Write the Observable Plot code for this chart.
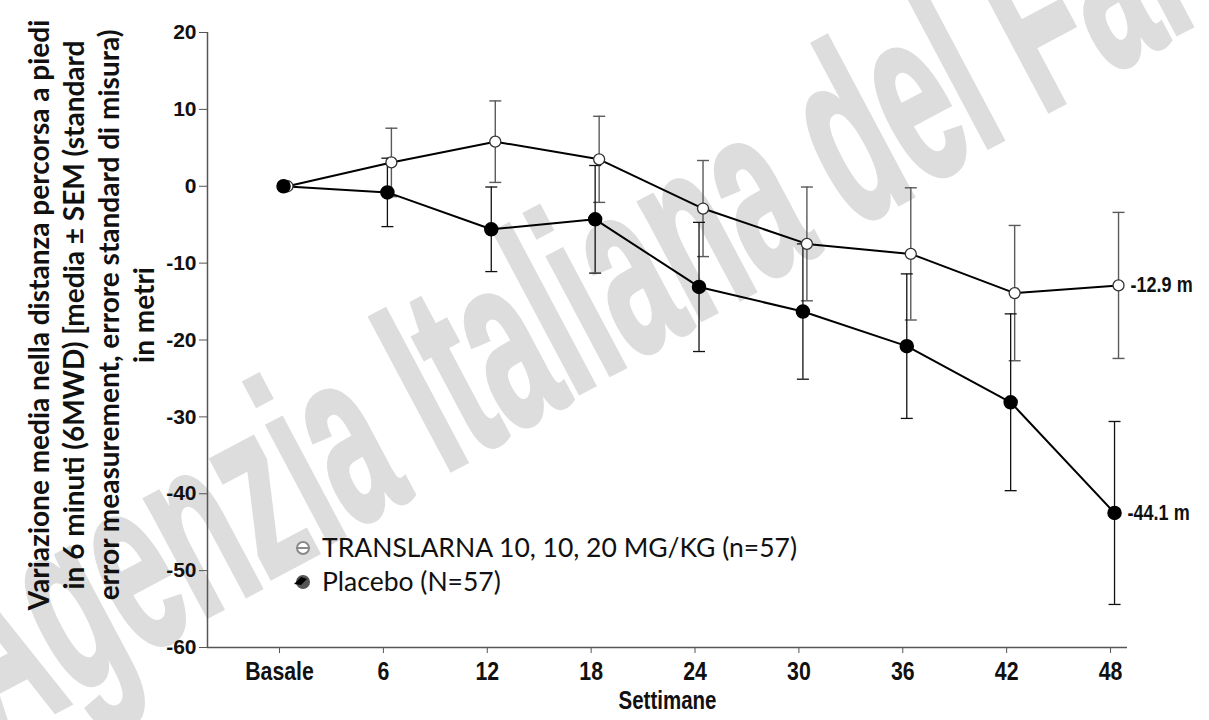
<!DOCTYPE html>
<html><head><meta charset="utf-8">
<script src="https://cdn.jsdelivr.net/npm/d3@7"></script>
<script src="https://cdn.jsdelivr.net/npm/@observablehq/plot@0.6"></script>
<style>
html,body{margin:0;padding:0;background:#fff;}
#wrap{position:relative;width:1209px;height:720px;overflow:hidden;}
#wrap > svg{position:absolute;left:0;top:0;}
#legend{position:absolute;left:0;top:0;pointer-events:none;}
</style></head><body><div id="wrap"></div>
<script>
// ---- data ----
const weeks = [0, 6, 12, 18, 24, 30, 36, 42, 48];
const weekLabels = ["Basale", "6", "12", "18", "24", "30", "36", "42", "48"];
const translarnaMean = [0, 3.1, 5.8, 3.5, -2.9, -7.5, -8.8, -13.9, -12.9];
const translarnaSem  = [0, 4.45, 5.3, 5.6, 6.25, 7.4, 8.6, 8.8, 9.5];
const placeboMean    = [0, -0.8, -5.6, -4.3, -13.1, -16.3, -20.8, -28.1, -42.5];
const placeboSem     = [0, 4.45, 5.5, 7.0, 8.4, 8.8, 9.4, 11.5, 11.9];
const seriesNames = ["TRANSLARNA 10, 10, 20 MG/KG (n=57)", "Placebo (N=57)"];
const endLabels = ["-12.9 m", "-44.1 m"];
const yTicks = [20, 10, 0, -10, -20, -30, -40, -50, -60];
const yTitleLines = [
  "Variazione media nella distanza percorsa a piedi",
  "in 6 minuti (6MWD) [media \u00B1 SEM (standard",
  "error measurement, errore standard di misura)",
  "in metri"
];
const xTitle = "Settimane";
const watermarkText = "Agenzia Italiana del Farmaco";

// ---- derived tables ----
const makeRows = (name, means, sems) => weeks.map((w, i) => ({
  series: name, week: w, mean: means[i], sem: sems[i],
  lo: means[i] - sems[i], hi: means[i] + sems[i]
}));
const tr = makeRows(seriesNames[0], translarnaMean, translarnaSem);
const pl = makeRows(seriesNames[1], placeboMean, placeboSem);
const trBars = tr.filter(d => d.sem > 0);
const plBars = pl.filter(d => d.sem > 0);
const trEnd = [{week: weeks[weeks.length - 1], mean: translarnaMean[translarnaMean.length - 1], label: endLabels[0]}];
const plEnd = [{week: weeks[weeks.length - 1], mean: placeboMean[placeboMean.length - 1], label: endLabels[1]}];

const W = 1209, H = 720;
const xDomain = [-4.16, 48.98];
const yDomain = [-60, 20];
const capSymbol = {draw(ctx, size) { const w = Math.sqrt(size / Math.PI); ctx.moveTo(-w, 0); ctx.lineTo(w, 0); }};

const armFont = "Arial, 'Liberation Sans', sans-serif";

// watermark (drawn first, behind everything): letters placed one by one
function watermark() {
  const g = d3.create("svg:g");
  const fontSize = 200, sx = 0.64, sy = 1.25, letterRot = -28, pathAngle = 31 * Math.PI / 180;
  const ctx = document.createElement("canvas").getContext("2d");
  ctx.font = `bold ${fontSize}px 'Liberation Sans', Arial, sans-serif`;
  let s = 0;
  const ox = -8, oy = 745;
  for (const ch of watermarkText) {
    const w = ctx.measureText(ch).width * sx;
    const px = ox + s * Math.cos(pathAngle), py = oy - s * Math.sin(pathAngle);
    if (ch !== " ") {
      g.append("text")
        .attr("transform", `translate(${px.toFixed(1)},${py.toFixed(1)}) rotate(${letterRot}) scale(${sx},${sy})`)
        .attr("text-anchor", "start")
        .attr("font-family", "'Liberation Sans', Arial, sans-serif")
        .attr("font-weight", "bold")
        .attr("font-size", fontSize)
        .attr("fill", "#dddddd")
        .attr("stroke", "#dddddd")
        .attr("stroke-width", 4)
        .text(ch);
    }
    s += w;
  }
  return g.node();
}

const trGrey = "#5a5a5a";

const chart = Plot.plot({
  width: W, height: H,
  marginLeft: 207, marginRight: W - 1127, marginTop: 32, marginBottom: H - 647,
  style: {background: "transparent", fontFamily: armFont, color: "#000"},
  x: {domain: xDomain, axis: null},
  y: {domain: yDomain, axis: null},
  marks: [
    watermark,
    // axes lines
    Plot.ruleX([xDomain[0]], {stroke: "#555", strokeWidth: 1.5}),
    Plot.ruleY([yDomain[0]], {stroke: "#555", strokeWidth: 1.5}),
    Plot.axisY({ticks: yTicks, tickSize: 8, tickPadding: 3, stroke: "#555", label: null,
      tickFormat: d => String(d),
      fontSize: 21, fontWeight: "bold", fontFamily: armFont, fill: "#111"}),
    Plot.axisX({ticks: weeks, tickSize: 6, tickPadding: 8, stroke: "#555", label: null,
      tickFormat: d => weekLabels[weeks.indexOf(d)],
      fontSize: 26, fontWeight: "bold", fontFamily: armFont, fill: "#111"}),
    // error bars
    Plot.ruleX(trBars, {x: "week", y1: "lo", y2: "hi", stroke: trGrey, strokeWidth: 1.4, dx: 8}),
    Plot.dot(trBars, {x: "week", y: "lo", symbol: capSymbol, r: 6, stroke: trGrey, strokeWidth: 1.4, dx: 8}),
    Plot.dot(trBars, {x: "week", y: "hi", symbol: capSymbol, r: 6, stroke: trGrey, strokeWidth: 1.4, dx: 8}),
    Plot.ruleX(plBars, {x: "week", y1: "lo", y2: "hi", stroke: "#111", strokeWidth: 1.3, dx: 4}),
    Plot.dot(plBars, {x: "week", y: "lo", symbol: capSymbol, r: 6, stroke: "#111", strokeWidth: 1.3, dx: 4}),
    Plot.dot(plBars, {x: "week", y: "hi", symbol: capSymbol, r: 6, stroke: "#111", strokeWidth: 1.3, dx: 4}),
    // lines
    Plot.line(tr, {x: "week", y: "mean", stroke: "#000", strokeWidth: 2, dx: 8}),
    Plot.line(pl, {x: "week", y: "mean", stroke: "#000", strokeWidth: 2, dx: 4}),
    // markers
    Plot.dot(tr, {x: "week", y: "mean", r: 5.5, fill: "white", stroke: "#333", strokeWidth: 1.3, dx: 8}),
    Plot.dot(pl, {x: "week", y: "mean", r: 6.5, fill: "#000", stroke: "#000", dx: 4}),
    // end labels
    Plot.text(trEnd, {x: "week", y: "mean", text: "label", dx: 20, textAnchor: "start",
      fontSize: 22, fontWeight: "bold", fontFamily: armFont, fill: "#111"}),
    Plot.text(plEnd, {x: "week", y: "mean", text: "label", dx: 17, textAnchor: "start",
      fontSize: 22, fontWeight: "bold", fontFamily: armFont, fill: "#111"}),
    // axis titles
    Plot.text([yTitleLines.join("\n")], {frameAnchor: "left", textAnchor: "middle", lineAnchor: "middle",
      rotate: -90, dx: -117, dy: -25,
      lineHeight: 1.25, fontSize: 28, fontWeight: "bold", fontFamily: "Lato, 'Open Sans', sans-serif", fill: "#111"}),
    Plot.text([xTitle], {frameAnchor: "bottom", lineAnchor: "middle", dy: 53,
      fontSize: 25, fontWeight: "bold", fontFamily: armFont, fill: "#111"})
  ]
});

// condense the Arial-Narrow-like texts (tick labels, end labels, x title)
const narrowSet = new Set([...weekLabels, ...endLabels, xTitle]);
d3.select(chart).selectAll("text").each(function() {
  if (!narrowSet.has(this.textContent)) return;
  const x = +(this.getAttribute("x") || 0);
  const t = this.getAttribute("transform") || "";
  this.setAttribute("transform", `${t} translate(${x},0) scale(0.82,1) translate(${-x},0)`);
});

const wrap = document.getElementById("wrap");
wrap.appendChild(chart);

// legend overlay
const leg = d3.select(wrap).append("svg").attr("id", "legend").attr("width", W).attr("height", H);
const legRows = [
  {name: seriesNames[0], y: 548, open: true},
  {name: seriesNames[1], y: 582, open: false}
];
legRows.forEach(r => {
  const g = leg.append("g").attr("transform", `translate(303,${r.y})`);
  if (r.open) {
    g.append("circle").attr("r", 6).attr("fill", "white").attr("stroke", "#8a8a8a").attr("stroke-width", 2);
    g.append("line").attr("x1", -7).attr("x2", 7).attr("stroke", "#8a8a8a").attr("stroke-width", 2);
  } else {
    g.append("circle").attr("r", 7).attr("fill", "#555");
    g.append("path").attr("d", "M-9,2 L-2,-5 L4,-3 L-2,3 Z").attr("fill", "#000");
  }
  leg.append("text").attr("x", 322).attr("y", r.y).attr("dy", "0.35em")
    .attr("font-family", "Lato, 'Open Sans', sans-serif").attr("font-size", 26.5).attr("fill", "#111")
    .text(r.name);
});
</script></body></html>
